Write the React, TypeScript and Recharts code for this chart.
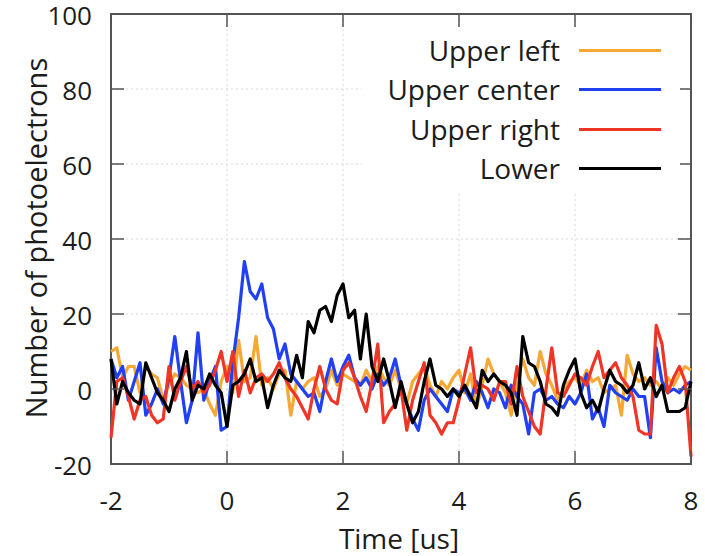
import { LineChart, Line, XAxis, YAxis, CartesianGrid, ReferenceArea } from "recharts";

// time bins [us]
const TIME = [
  -2.0, -1.9, -1.8, -1.7, -1.6, -1.5, -1.4, -1.3, -1.2, -1.1,
  -1.0, -0.9, -0.8, -0.7, -0.6, -0.5, -0.4, -0.3, -0.2, -0.1,
  0.0, 0.1, 0.2, 0.3, 0.4, 0.5, 0.6, 0.7, 0.8, 0.9,
  1.0, 1.1, 1.2, 1.3, 1.4, 1.5, 1.6, 1.7, 1.8, 1.9,
  2.0, 2.1, 2.2, 2.3, 2.4, 2.5, 2.6, 2.7, 2.8, 2.9,
  3.0, 3.1, 3.2, 3.3, 3.4, 3.5, 3.6, 3.7, 3.8, 3.9,
  4.0, 4.1, 4.2, 4.3, 4.4, 4.5, 4.6, 4.7, 4.8, 4.9,
  5.0, 5.1, 5.2, 5.3, 5.4, 5.5, 5.6, 5.7, 5.8, 5.9,
  6.0, 6.1, 6.2, 6.3, 6.4, 6.5, 6.6, 6.7, 6.8, 6.9,
  7.0, 7.1, 7.2, 7.3, 7.4, 7.5, 7.6, 7.7, 7.8, 7.9,
  8.0,
];

const UPPER_LEFT = [
  10, 11, 3, 6, 6, -1, 6, 4, 3, -3,
  1, 4, 3, 1, 0, -1, 0, -4, -7, 2,
  6, -1, 13, 2, 3, 14, 1, 3, 0, 4,
  5, -7, 2, 0, 2, 3, -2, 0, 5, 1,
  4, 3, 2, 1, 5, 2, 6, 3, 1, 5,
  0, -4, 2, 4, 6, 1, -2, 2, 0, 3,
  5, -1, 4, -5, 1, 8, 4, 2, -1, -7,
  2, 8, 3, 1, 10, 4, 1, -3, 0, 2,
  3, 1, 5, 2, 3, -1, 0, 1, -7, 9,
  4, 2, 3, 1, 2, 0, 3, 1, 4, 6,
  5,
];

const UPPER_CENTER = [
  8, 3, 6, -3, 2, 7, -7, -4, 0, -4,
  3, 14, 2, -9, -3, 15, -3, 2, 6, -11,
  -10, 7, 19, 34, 26, 24, 28, 19, 16, 8,
  12, 4, 2, 0, -2, -1, -6, 2, 8, 2,
  6, 9, 3, 1, 3, 0, 4, 1, 3, 8,
  1, -4, -8, -11, -3, 0, -2, -4, -6, 0,
  -1, 0, -3, 2, -1, -5, 0, -1, -5, 1,
  -2, -4, -12, -1, 0, -3, -2, -4, -5, -2,
  -4, -1, 4, -8, -5, -10, 1, -1, -2, -3,
  0, -2, -2, -13, 11, 2, -1, 0, -1, 1,
  2,
];

const UPPER_RIGHT = [
  -13, 2, 3, -2, -8, -3, -2, -7, -9, -8,
  6, -3, 2, 6, 0, 2, -1, 1, 5, 10,
  2, 10, -2, 5, -1, 3, 4, 2, 4, 7,
  3, 0, -2, -5, -8, 0, 6, 0, -3, -4,
  5, 7, 3, -2, -6, 2, 12, -9, -6, -4,
  0, -11, -3, 2, 7, -7, -9, -12, -9, -9,
  -3, 4, 11, -1, 1, 0, -3, 2, 2, -4,
  6, -2, -6, -10, -12, 0, 11, -1, -2, 1,
  4, 3, 1, 6, 10, 3, 5, 7, 3, 1,
  -2, -11, -12, -12, 17, 12, -1, 3, 6, 2,
  -18,
];

const LOWER = [
  8, -4, 2, -1, -3, -4, 7, 3, -1, -3,
  -6, 0, 3, 10, -3, 1, 0, 4, 1, -1,
  -10, 1, 2, 4, 8, 2, 3, -5, 1, 5,
  3, 2, 9, 3, 18, 15, 21, 22, 18, 25,
  28, 19, 21, 8, 20, 6, 2, 8, 2, -5,
  2, -4, -9, -6, 2, 8, 1, 0, -2, 0,
  -2, 1, -2, -5, 5, 2, 4, 2, 1, -1,
  -7, 14, 7, 6, 2, -4, -5, -7, 1, 5,
  8, -1, -5, -3, -6, 0, 5, 2, 1, -1,
  1, 7, 0, 3, -2, 1, -6, -6, -6, -5,
  2,
];

const X_TICKS = [-2, 0, 2, 4, 6, 8];
const Y_TICKS = [-20, 0, 20, 40, 60, 80, 100];

const SERIES = [
  { key: "ul", name: "Upper left", color: "#f6a836", values: UPPER_LEFT },
  { key: "uc", name: "Upper center", color: "#2140f2", values: UPPER_CENTER },
  { key: "ur", name: "Upper right", color: "#ef3526", values: UPPER_RIGHT },
  { key: "lo", name: "Lower", color: "#000000", values: LOWER },
];

const data = TIME.map((t, i) => {
  const row: Record<string, number> = { t };
  for (const s of SERIES) row[s.key] = s.values[i];
  return row;
});

const W = 705;
const H = 556;
const LEFT = 111;
const TOP = 14;
const RIGHT = 691;
const BOTTOM = 464;
const TICK = 13;
const AXIS = "#555";
const FONT = "'Open Sans', sans-serif";
const TEXT = "#1c1c1c";

function XTick(props: any) {
  const { x, payload } = props;
  return (
    <g>
      <line x1={x} x2={x} y1={BOTTOM} y2={BOTTOM - TICK} stroke={AXIS} strokeWidth={1.5} />
      <line x1={x} x2={x} y1={TOP} y2={TOP + TICK} stroke={AXIS} strokeWidth={1.5} />
      <text x={x} y={510} textAnchor="middle" fontSize={26} fontFamily={FONT} fill={TEXT}>
        {payload.value}
      </text>
    </g>
  );
}

function YTick(props: any) {
  const { y, payload } = props;
  return (
    <g>
      <line x1={LEFT} x2={LEFT + TICK} y1={y} y2={y} stroke={AXIS} strokeWidth={1.5} />
      <line x1={RIGHT} x2={RIGHT - TICK} y1={y} y2={y} stroke={AXIS} strokeWidth={1.5} />
      <text x={92} y={y + 11} textAnchor="end" fontSize={26} fontFamily={FONT} fill={TEXT}>
        {payload.value}
      </text>
    </g>
  );
}

const LEGEND_ROWS = [50, 89, 129, 168];

export default function App() {
  return (
    <div style={{ position: "absolute", left: 0, top: 0, width: W, height: H, background: "#fff" }}>
      <LineChart
        width={W}
        height={H}
        data={data}
        margin={{ top: TOP, right: W - RIGHT, left: 0, bottom: 0 }}
      >
        <CartesianGrid stroke="#d8d8d8" strokeDasharray="2 3" />
        <XAxis
          dataKey="t"
          type="number"
          domain={[-2, 8]}
          ticks={X_TICKS}
          height={H - BOTTOM}
          tick={<XTick />}
          tickLine={false}
          axisLine={false}
          label={{
            content: () => (
              <text x={399} y={549} textAnchor="middle" fontSize={28} fontFamily={FONT} fill={TEXT}>
                Time [us]
              </text>
            ),
          }}
        />
        <YAxis
          type="number"
          domain={[-20, 100]}
          ticks={Y_TICKS}
          width={LEFT}
          tick={<YTick />}
          tickLine={false}
          axisLine={false}
          label={{
            content: () => (
              <text
                x={35}
                y={238}
                transform="rotate(-90 35 238)"
                textAnchor="middle"
                dominantBaseline="central"
                fontSize={29}
                fontFamily={FONT}
                fill={TEXT}
              >
                Number of photoelectrons
              </text>
            ),
          }}
        />
        <ReferenceArea x1={-2} x2={8} y1={-20} y2={100} fill="none" stroke={AXIS} strokeWidth={2} />
        {SERIES.map((s) => (
          <Line
            key={s.key}
            dataKey={s.key}
            name={s.name}
            type="linear"
            stroke={s.color}
            strokeWidth={3.2}
            strokeLinejoin="round"
            dot={false}
            isAnimationActive={false}
          />
        ))}
      </LineChart>
      <div
        style={{
          position: "absolute",
          left: 362,
          top: 28,
          width: 318,
          height: 164,
          background: "#fff",
          fontFamily: FONT,
          fontSize: 28,
          color: TEXT,
        }}
      >
        {SERIES.map((s, i) => (
          <div key={s.key}>
            <div
              style={{
                position: "absolute",
                right: 318 - (560 - 362),
                top: LEGEND_ROWS[i] - 28 - 19,
                whiteSpace: "nowrap",
                lineHeight: "38px",
              }}
            >
              {s.name}
            </div>
            <div
              style={{
                position: "absolute",
                left: 579 - 362,
                width: 82,
                top: LEGEND_ROWS[i] - 28 - 1.5,
                height: 3,
                background: s.color,
              }}
            />
          </div>
        ))}
      </div>
    </div>
  );
}
